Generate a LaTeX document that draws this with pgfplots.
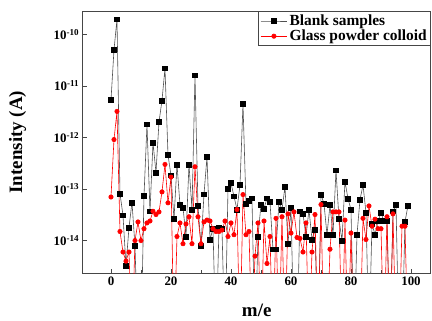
\documentclass[border=0pt]{standalone}
\usepackage{pgfplots}
\pgfplotsset{compat=1.18}
\usepackage{fontspec}
\setmainfont{Liberation Serif}
\definecolor{axgray}{RGB}{70,70,70}
\definecolor{blkline}{RGB}{80,80,80}
\begin{document}
\begin{tikzpicture}
\useasboundingbox (-82.7bp,-47.7bp) rectangle (349.3bp,273.3bp);
\begin{axis}[
  width=348bp, height=262.3bp, scale only axis,
  ymode=log, log basis y=10,
  xmin=-9.43, xmax=106.57,
  ymin=2.32e-15, ymax=2.83e-10,
  axis line style={axgray, line width=0.9pt},
  tick style={axgray, line width=0.7pt},
  tick align=inside,
  xtick pos=bottom, ytick pos=left,
  xtick={0,20,40,60,80,100},
  minor x tick num=1,
  ytick={1e-14,1e-13,1e-12,1e-11,1e-10},
  yticklabels={\textbf{10}\textsuperscript{\textbf{-14}},\textbf{10}\textsuperscript{\textbf{-13}},\textbf{10}\textsuperscript{\textbf{-12}},\textbf{10}\textsuperscript{\textbf{-11}},\textbf{10}\textsuperscript{\textbf{-10}}},
  /pgf/number format/assume math mode=true,
  xticklabel style={font=\fontsize{13}{15}\selectfont\bfseries},
  yticklabel style={font=\fontsize{13}{15}\selectfont\bfseries},
  every axis x label/.style={at={(axis description cs:0.5,0)}, yshift=-37bp, anchor=center},
  every axis y label/.style={at={(axis description cs:0,0.5)}, xshift=-65bp, rotate=90, anchor=center},
  xlabel={\fontsize{19}{21}\selectfont\bfseries m/e},
  ylabel={\fontsize{19}{21}\selectfont\bfseries Intensity (A)},
  legend style={at={(1,1)}, anchor=north east, draw=axgray, line width=0.8pt, fill=white,
    font=\fontsize{15.5}{17}\selectfont\bfseries, inner sep=1.5pt, row sep=-1pt,
    legend cell align=left},
  legend image code/.code={\draw[mark repeat=2,mark phase=2,#1] plot coordinates {(0cm,0cm) (0.47cm,0cm) (0.94cm,0cm)};},
]
\addplot[blkline, line width=0.6pt, mark=square*, mark size=2.4bp, mark options={fill=black, draw=black, solid}] coordinates {
(0,5.3e-12) (1,5e-11) (2,1.95e-10) (3,8.1e-14) (4,3.1e-14) (5,3.2e-15) (6,1.8e-14) (7,5.5e-14) (8,7.8e-15) (9,1e-16)
(10,1e-16) (11,7.3e-14) (12,1.8e-12) (13,3.7e-14) (14,7.9e-13) (15,2.1e-13) (16,2e-12) (17,5.2e-12) (18,2.2e-11) (19,4.6e-13)
(20,1.85e-13) (21,2.6e-14) (22,3e-13) (23,4.9e-14) (24,4.4e-14) (25,1.2e-14) (26,3e-13) (27,3.9e-14) (28,1.6e-11) (29,4.7e-14)
(30,7.8e-15) (31,7.9e-14) (32,4.2e-13) (33,1.05e-14) (34,1.7e-14) (35,1e-16) (36,1.8e-14) (37,1.7e-14) (38,1e-16) (39,1e-13)
(40,1.3e-13) (41,7.2e-14) (42,4e-14) (43,1.2e-13) (44,4.5e-12) (45,5.2e-14) (46,5.9e-14) (47,6.6e-14) (48,1e-16) (49,1.2e-14)
(50,5e-14) (51,4.2e-14) (52,6.6e-14) (53,5.6e-14) (54,6.8e-15) (55,6.8e-15) (56,5.6e-14) (57,4e-14) (58,1.1e-13) (59,8.7e-15)
(60,4.4e-14) (61,1e-16) (62,1e-16) (63,3.7e-14) (64,3.3e-14) (65,1.2e-14) (66,4e-14) (67,1.05e-14) (68,1.6e-14) (69,1e-16)
(70,7.8e-14) (71,5.2e-14) (72,1.3e-14) (73,4.9e-14) (74,1.3e-14) (75,2.3e-13) (76,2.6e-14) (77,1e-14) (78,1.4e-13) (79,6.5e-14)
(80,4e-14) (81,1e-16) (82,1.3e-14) (83,6.2e-14) (84,1.2e-13) (85,3.5e-14) (86,1e-16) (87,2.1e-14) (88,1.3e-14) (89,2.4e-14)
(90,3.4e-14) (91,2.4e-14) (92,2.4e-14) (93,1e-16) (94,3.7e-14) (95,4.9e-14) (96,1e-16) (97,1e-16) (98,2.3e-14) (99,4.8e-14)
};
\addlegendentry{Blank samples}
\addplot[red, line width=0.6pt, mark=*, mark size=2.2bp, mark options={fill=red, draw=red, solid}] coordinates {
(0,7e-14) (1,9.1e-13) (2,3.2e-12) (3,1.5e-14) (4,6e-15) (5,4e-15) (6,6e-15) (7,1e-16) (8,1e-14) (9,2.3e-14)
(10,1e-14) (11,1.7e-14) (12,2.2e-14) (13,2.4e-14) (14,3.7e-14) (15,3.2e-14) (16,3.6e-14) (17,8.8e-14) (18,3e-13) (19,5.4e-14)
(20,1.7e-13) (21,1e-16) (22,1.2e-14) (23,2.2e-14) (24,8.7e-15) (25,2.1e-14) (26,2.9e-14) (27,8.7e-15) (28,2.7e-13) (29,2.9e-14)
(30,8.7e-15) (31,2.3e-14) (32,2.5e-14) (33,2.4e-14) (34,1.7e-14) (35,1.5e-14) (36,1.5e-14) (37,1.6e-14) (38,2.4e-14) (39,1.2e-14)
(40,2.2e-14) (41,1.3e-14) (42,4e-14) (43,1e-16) (44,7.8e-14) (45,1.3e-14) (46,1.5e-14) (47,1e-16) (48,5e-15) (49,2.2e-14)
(50,1e-16) (51,2.4e-14) (52,3.6e-15) (53,1.2e-14) (54,1e-16) (55,2.7e-14) (56,1e-16) (57,2.9e-14) (58,1e-16) (59,3.3e-14)
(60,1.4e-14) (61,3.6e-14) (62,1.15e-14) (63,1.1e-14) (64,6e-15) (65,2.2e-14) (66,1e-16) (67,6e-15) (68,3.2e-14) (69,1e-16)
(70,5e-14) (71,1e-16) (72,1e-16) (73,6.8e-15) (74,3.6e-14) (75,3.6e-14) (76,3.6e-14) (77,1e-16) (78,2.5e-14) (79,1e-16)
(80,1.4e-14) (81,1e-16) (82,1e-16) (83,1e-16) (84,2.7e-14) (85,1.05e-14) (86,4.7e-14) (87,1.9e-14) (88,2.6e-14) (89,1.7e-14)
(90,1.7e-14) (91,1e-16) (92,2.9e-14) (93,1e-16) (94,3.3e-14) (95,1e-16) (96,1e-16) (97,1.9e-14) (98,1.9e-14) (99,1e-16)
};
\addlegendentry{Glass powder colloid}
\end{axis}
\end{tikzpicture}
\end{document}
